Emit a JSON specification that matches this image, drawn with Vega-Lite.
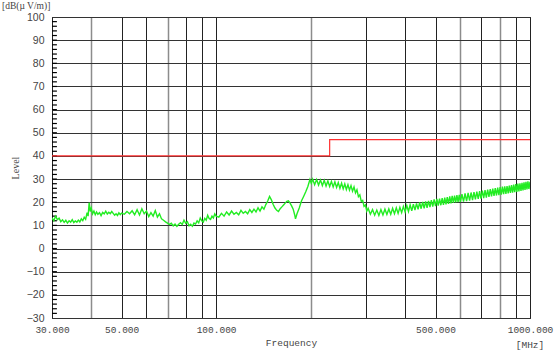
{
  "$schema": "https://vega.github.io/schema/vega-lite/v6.json",
  "width": 478,
  "height": 301,
  "autosize": "none",
  "padding": {"left": 52, "top": 17, "right": 25, "bottom": 44},
  "background": "white",
  "config": {
    "view": {"stroke": "black", "strokeWidth": 1},
    "axis": {"labelColor": "#444", "titleColor": "#444", "labelFont": "Liberation Mono", "titleFont": "Liberation Mono", "labelFontSize": 9.5, "titleFontSize": 9.5, "titleFontWeight": "normal"}
  },
  "datasets": {
    "trace": [
      {"f":30,"v":13.2},{"f":30.4,"v":12.0},{"f":30.8,"v":14.0},{"f":31.2,"v":12.5},{"f":31.6,"v":13.1},{"f":32,"v":11.6},{"f":32.4,"v":12.4},{"f":32.8,"v":11.3},{"f":33.2,"v":12.2},{"f":33.6,"v":11.0},{"f":34,"v":12.0},{"f":34.4,"v":11.4},{"f":34.8,"v":12.5},{"f":35.2,"v":11.2},{"f":35.6,"v":11.9},{"f":36,"v":11.4},{"f":36.4,"v":12.3},{"f":36.8,"v":11.5},{"f":37.2,"v":12.8},{"f":37.6,"v":12.0},{"f":38,"v":13.5},{"f":38.4,"v":12.6},{"f":38.8,"v":15.5},{"f":39.1,"v":14.0},{"f":39.4,"v":19.8},{"f":39.7,"v":16.0},{"f":40,"v":17.5},{"f":40.4,"v":15.0},{"f":40.8,"v":16.2},{"f":41.2,"v":14.6},
      {"f":41.6,"v":15.8},{"f":42,"v":14.8},{"f":42.5,"v":15.5},{"f":43,"v":14.2},{"f":43.5,"v":15.6},{"f":44,"v":15.0},{"f":44.5,"v":16.1},{"f":45,"v":14.9},{"f":45.5,"v":15.7},{"f":46,"v":15.1},{"f":46.5,"v":16.0},{"f":47,"v":15.2},{"f":47.5,"v":14.4},{"f":48,"v":15.0},{"f":48.5,"v":14.3},{"f":49,"v":15.4},{"f":49.5,"v":14.6},{"f":50,"v":15.3},{"f":51,"v":14.8},{"f":52,"v":16.0},{"f":53,"v":15.0},{"f":54,"v":16.3},{"f":55,"v":14.6},{"f":56,"v":16.8},{"f":57,"v":14.5},{"f":58,"v":17.2},{"f":59,"v":15.0},{"f":60,"v":16.2},{"f":61,"v":13.8},{"f":62,"v":15.5},{"f":63,"v":14.0},{"f":64,"v":16.4},{"f":65,"v":13.6},{"f":66,"v":15.0},{"f":67,"v":12.8},{"f":68,"v":12.2},{"f":69,"v":11.5},{"f":70,"v":11.0},{"f":71,"v":10.4},{"f":72,"v":10.9},{"f":73,"v":9.8},{"f":74,"v":10.6},{"f":75,"v":9.6},{"f":76,"v":10.5},{"f":77,"v":11.2},{"f":78,"v":10.4},{"f":79,"v":12.3},{"f":80,"v":10.9},{"f":81,"v":11.6},{"f":82,"v":9.8},{"f":83,"v":10.5},{"f":84,"v":9.6},{"f":85,"v":11.0},{"f":86,"v":10.6},{"f":87,"v":12.0},{"f":88,"v":11.1},{"f":89,"v":13.2},{"f":90,"v":12.0},{"f":91,"v":11.4},{"f":92,"v":13.0},{"f":93,"v":12.2},{"f":94,"v":14.4},{"f":95,"v":13.0},{"f":96,"v":12.6},{"f":97,"v":14.0},{"f":98,"v":13.2},{"f":99,"v":15.0},{"f":100,"v":14.0},
      {"f":102,"v":13.6},{"f":104,"v":15.2},{"f":106,"v":14.0},{"f":108,"v":15.8},{"f":110,"v":14.5},{"f":112,"v":16.2},{"f":114,"v":14.8},{"f":116,"v":15.6},{"f":118,"v":14.6},{"f":120,"v":16.5},{"f":122,"v":15.2},{"f":124,"v":16.0},{"f":126,"v":15.0},{"f":128,"v":16.8},{"f":130,"v":15.6},{"f":132,"v":17.0},{"f":134,"v":15.8},{"f":136,"v":17.6},{"f":138,"v":16.2},{"f":140,"v":18.0},{"f":142,"v":17.0},{"f":144,"v":19.0},{"f":146,"v":20.5},{"f":148,"v":22.5},{"f":150,"v":21.0},{"f":152,"v":19.0},{"f":154,"v":17.5},{"f":156,"v":16.5},{"f":158,"v":16.0},{"f":160,"v":17.2},{"f":162,"v":18.0},{"f":164,"v":18.8},{"f":166,"v":19.6},{"f":168,"v":20.4},{"f":170,"v":20.6},{"f":172,"v":19.6},{"f":174,"v":18.4},{"f":176,"v":17.0},{"f":178,"v":14.5},{"f":179,"v":12.8},{"f":181,"v":15.0},{"f":184,"v":17.5},{"f":187,"v":20.5},{"f":190,"v":22.5},{"f":193,"v":24.5},{"f":196,"v":26.8},{"f":199,"v":29.8},{"f":201,"v":28.2},
      {"f":203,"v":30.0},{"f":206,"v":27.6},{"f":209,"v":29.8},{"f":212,"v":27.4},{"f":215,"v":29.6},{"f":218,"v":27.2},{"f":221,"v":29.4},{"f":224,"v":27.0},{"f":227,"v":29.2},{"f":230,"v":26.8},{"f":233,"v":29.0},{"f":236,"v":26.6},{"f":239,"v":28.8},{"f":242,"v":26.4},{"f":245,"v":28.5},{"f":248,"v":26.0},{"f":251,"v":28.2},{"f":254,"v":25.8},{"f":257,"v":27.9},{"f":260,"v":25.5},{"f":263,"v":27.6},{"f":266,"v":25.2},{"f":269,"v":27.2},{"f":272,"v":24.8},{"f":275,"v":26.6},{"f":278,"v":24.0},{"f":281,"v":25.4},{"f":284,"v":22.4},{"f":287,"v":23.2},{"f":290,"v":20.4},{"f":293,"v":20.8},{"f":296,"v":18.2},{"f":299,"v":18.8},{"f":302,"v":16.2},{"f":305,"v":17.4},{"f":310,"v":14.8},{"f":315,"v":16.8},{"f":320,"v":14.4},{"f":325,"v":16.6},{"f":330,"v":14.3},{"f":335,"v":16.8},{"f":340,"v":14.5},{"f":345,"v":17.0},{"f":350,"v":14.7},{"f":355,"v":17.1},{"f":360,"v":14.8},{"f":365,"v":17.4},{"f":370,"v":15.0},{"f":375,"v":17.6},{"f":380,"v":15.2},{"f":385,"v":17.8},{"f":390,"v":15.5},{"f":395,"v":18.2},{"f":400,"v":15.8},
      {"f":405,"v":18.6},{"f":410,"v":16.0},{"f":415,"v":18.9},{"f":420,"v":16.3},{"f":425,"v":19.2},{"f":430,"v":16.6},{"f":435,"v":19.5},{"f":440,"v":16.9},{"f":445,"v":19.9},{"f":450,"v":17.2},{"f":455,"v":20.1},{"f":460,"v":17.4},{"f":465,"v":20.4},{"f":470,"v":17.6},{"f":475,"v":20.6},{"f":480,"v":17.9},{"f":485,"v":20.9},{"f":490,"v":18.1},{"f":495,"v":21.2},{"f":500,"v":18.3},{"f":505,"v":21.4},{"f":510,"v":18.5},{"f":515,"v":21.6},{"f":520,"v":18.7},{"f":525,"v":21.8},{"f":530,"v":18.9},{"f":535,"v":22.0},{"f":540,"v":19.1},{"f":545,"v":22.2},{"f":550,"v":19.3},{"f":555,"v":22.5},{"f":560,"v":19.5},{"f":565,"v":22.7},{"f":570,"v":19.7},{"f":575,"v":22.9},{"f":580,"v":19.9},{"f":585,"v":23.1},{"f":590,"v":20.0},{"f":595,"v":23.2},{"f":600,"v":20.1},
      {"f":607,"v":23.5},{"f":614,"v":20.3},{"f":621,"v":23.8},{"f":628,"v":20.5},{"f":635,"v":24.0},{"f":642,"v":20.7},{"f":649,"v":24.2},{"f":656,"v":20.9},{"f":663,"v":24.4},{"f":670,"v":21.2},{"f":677,"v":24.6},{"f":684,"v":21.4},{"f":691,"v":24.8},{"f":698,"v":21.6},{"f":705,"v":25.0},{"f":712,"v":21.8},{"f":719,"v":25.2},{"f":726,"v":22.0},{"f":733,"v":25.5},{"f":740,"v":22.3},{"f":747,"v":25.7},{"f":754,"v":22.5},{"f":761,"v":25.9},{"f":768,"v":22.7},{"f":775,"v":26.1},{"f":782,"v":22.9},{"f":789,"v":26.3},{"f":796,"v":23.1},{"f":803,"v":26.5},{"f":810,"v":23.3},{"f":817,"v":26.7},{"f":824,"v":23.5},{"f":831,"v":26.9},{"f":838,"v":23.6},{"f":845,"v":27.0},{"f":852,"v":23.8},{"f":859,"v":27.2},{"f":866,"v":24.0},{"f":873,"v":27.4},{"f":880,"v":24.1},{"f":887,"v":27.6},{"f":894,"v":24.3},{"f":901,"v":27.8},{"f":908,"v":24.5},{"f":915,"v":28.0},{"f":922,"v":24.7},{"f":929,"v":28.2},{"f":936,"v":24.9},{"f":943,"v":28.4},{"f":950,"v":25.1},{"f":957,"v":28.6},{"f":964,"v":25.3},{"f":971,"v":28.8},{"f":978,"v":25.5},{"f":985,"v":29.0},{"f":992,"v":25.7},{"f":1000,"v":28.8}
    ],
    "limit": [
      {"i":1,"f":30,"v":40},{"i":2,"f":230,"v":40},{"i":3,"f":230,"v":47},{"i":4,"f":1000,"v":47}
    ],
    "minor": [
      {"f":30,"v":-28},{"f":30,"v":-26},{"f":30,"v":-24},{"f":30,"v":-22},{"f":30,"v":-20},{"f":30,"v":-18},{"f":30,"v":-16},{"f":30,"v":-14},{"f":30,"v":-12},{"f":30,"v":-10},{"f":30,"v":-8},{"f":30,"v":-6},{"f":30,"v":-4},{"f":30,"v":-2},{"f":30,"v":0},{"f":30,"v":2},{"f":30,"v":4},{"f":30,"v":6},{"f":30,"v":8},{"f":30,"v":10},{"f":30,"v":12},{"f":30,"v":14},{"f":30,"v":16},{"f":30,"v":18},{"f":30,"v":20},{"f":30,"v":22},{"f":30,"v":24},{"f":30,"v":26},{"f":30,"v":28},{"f":30,"v":30},{"f":30,"v":32},{"f":30,"v":34},{"f":30,"v":36},{"f":30,"v":38},{"f":30,"v":40},{"f":30,"v":42},{"f":30,"v":44},{"f":30,"v":46},{"f":30,"v":48},{"f":30,"v":50},{"f":30,"v":52},{"f":30,"v":54},{"f":30,"v":56},{"f":30,"v":58},{"f":30,"v":60},{"f":30,"v":62},{"f":30,"v":64},{"f":30,"v":66},{"f":30,"v":68},{"f":30,"v":70},{"f":30,"v":72},{"f":30,"v":74},{"f":30,"v":76},{"f":30,"v":78},{"f":30,"v":80},{"f":30,"v":82},{"f":30,"v":84},{"f":30,"v":86},{"f":30,"v":88},{"f":30,"v":90},{"f":30,"v":92},{"f":30,"v":94},{"f":30,"v":96},{"f":30,"v":98}
    ],
    "labels": [
      {"f":30,"v":100,"t":"[dB(µ V/m)]","k":"y"},
      {"f":1000,"v":-30,"t":"[MHz]","k":"x"}
    ]
  },
  "encoding": {
    "x": {
      "field": "f", "type": "quantitative",
      "scale": {"type": "log", "domain": [30, 1000], "nice": false},
      "axis": {
        "values": [30,40,50,60,70,80,90,100,200,300,400,500,600,700,800,900,1000],
        "format": ".3f",
        "labelExpr": "indexof([30,50,100,500,1000], datum.value) >= 0 ? datum.label : ''",
        "labelFlush": false,
        "labelOverlap": false,
        "labelPadding": 6,
        "ticks": false,
        "domain": false,
        "grid": true,
        "gridColor": {"condition": {"test": "indexof([40,70,200,600,800], datum.value) >= 0", "value": "#8c8c8c"}, "value": "#222"},
        "gridWidth": {"condition": {"test": "indexof([40,70,200,600,800], datum.value) >= 0", "value": 1.5}, "value": 1},
        "gridOpacity": 1,
        "title": "Frequency",
        "titlePadding": 4
      }
    },
    "y": {
      "field": "v", "type": "quantitative",
      "scale": {"domain": [-30, 100], "nice": false, "zero": false},
      "axis": {
        "values": [-30,-20,-10,0,10,20,30,40,50,60,70,80,90,100],
        "labelOverlap": false,
        "labelFlush": false,
        "labelFont": "Liberation Sans",
        "labelFontSize": 10.5,
        "ticks": false,
        "labelPadding": 8,
        "domain": false,
        "grid": true,
        "gridColor": "#333",
        "title": "Level",
        "titleFont": "Liberation Serif",
        "titleFontSize": 10,
        "titlePadding": 6
      }
    }
  },
  "layer": [
    {
      "data": {"name": "minor"},
      "mark": {"type": "rule", "color": "#000000", "strokeWidth": 1.2, "opacity": 1},
      "encoding": {"x2": {"datum": 31.1}}
    },
    {
      "data": {"name": "trace"},
      "mark": {"type": "line", "color": "#22ec22", "strokeWidth": 1.4, "clip": true}
    },
    {
      "data": {"name": "limit"},
      "mark": {"type": "line", "color": "#ff3030", "strokeWidth": 1.2},
      "encoding": {"order": {"field": "i"}}
    },
    {
      "data": {"name": "labels"},
      "transform": [{"filter": "datum.k === 'y'"}],
      "mark": {"type": "text", "align": "left", "baseline": "middle", "dx": -50, "dy": -11, "font": "Liberation Serif", "fontSize": 9.5, "color": "#444"},
      "encoding": {"text": {"field": "t"}}
    },
    {
      "data": {"name": "labels"},
      "transform": [{"filter": "datum.k === 'x'"}],
      "mark": {"type": "text", "align": "center", "baseline": "middle", "dy": 27, "font": "Liberation Mono", "fontSize": 9.5, "color": "#444"},
      "encoding": {"text": {"field": "t"}}
    }
  ]
}
